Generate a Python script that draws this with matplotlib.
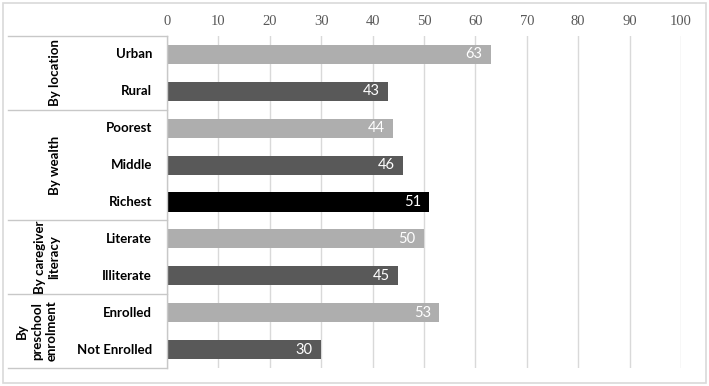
import matplotlib.pyplot as plt
from matplotlib.patches import Rectangle
from matplotlib.transforms import blended_transform_factory

# Data
categories = ["Urban", "Rural", "Poorest", "Middle", "Richest",
              "Literate", "Illiterate", "Enrolled", "Not Enrolled"]
values = [63, 43, 44, 46, 51, 50, 45, 53, 30]
shades = ["light", "dark", "light", "dark", "black",
          "light", "dark", "light", "dark"]
groups = ["By location", "By wealth", "By caregiver\nliteracy", "By\npreschool\nenrolment"]
group_sizes = [2, 3, 2, 2]

palette = {"light": "#AEAEAE", "dark": "#595959", "black": "#000000"}
line_col = "#C8C8C8"
sans = "Lato"

fig = plt.figure(figsize=(7.09, 3.86), dpi=100)
fig.patches.append(Rectangle((3 / 709, 3 / 386), 703 / 709, 380 / 386,
                             transform=fig.transFigure, fill=False,
                             edgecolor="#D9D9D9", linewidth=1.2))
ax = fig.add_axes([167 / 709, 18 / 386, 514 / 709, 332 / 386])

y = list(range(len(categories)))
ax.barh(y, values, height=0.52, color=[palette[s] for s in shades], zorder=3)

for yi, v in zip(y, values):
    ax.annotate(str(v), (v, yi), xytext=(-6, 0), textcoords="offset points",
                ha="right", va="center", color="white", fontsize=10.5,
                family=sans, zorder=4)

ax.set_xlim(0, 100)
ax.set_ylim(len(categories) - 0.5, -0.5)
ax.set_xticks(range(0, 101, 10))
ax.xaxis.tick_top()
ax.tick_params(axis="x", length=0, pad=6, labelsize=10.5, labelcolor="#595959")
for lab in ax.get_xticklabels():
    lab.set_family("Liberation Serif")
ax.set_yticks([])
ax.grid(axis="x", color="#D9D9D9", linewidth=1, zorder=0)
for s in ax.spines.values():
    s.set_visible(False)

# Left-hand table with group and category labels
tr = blended_transform_factory(ax.transAxes, ax.transData)
x_left = (8 - 167) / 514
ax.plot([0, 0], [-0.5, len(categories) - 0.5], transform=tr, color=line_col,
        linewidth=1, clip_on=False, zorder=5)
for yi, name in zip(y, categories):
    ax.text((152 - 167) / 514, yi, name, transform=tr, ha="right", va="center",
            fontsize=9.5, fontweight="bold", family=sans)

start = -0.5
group_x = [55, 55, 47, 37]
for g, n, gx in zip(groups, group_sizes, group_x):
    ax.plot([x_left, 0], [start, start], transform=tr, color=line_col,
            linewidth=1, clip_on=False)
    ax.text((gx - 167) / 514, start + n / 2, g, transform=tr, rotation=90,
            ha="center", va="center", fontsize=9.5, fontweight="bold",
            family=sans, linespacing=1.3)
    start += n
ax.plot([x_left, 0], [start, start], transform=tr, color=line_col,
        linewidth=1, clip_on=False)

fig.savefig("out.png", dpi=100)
